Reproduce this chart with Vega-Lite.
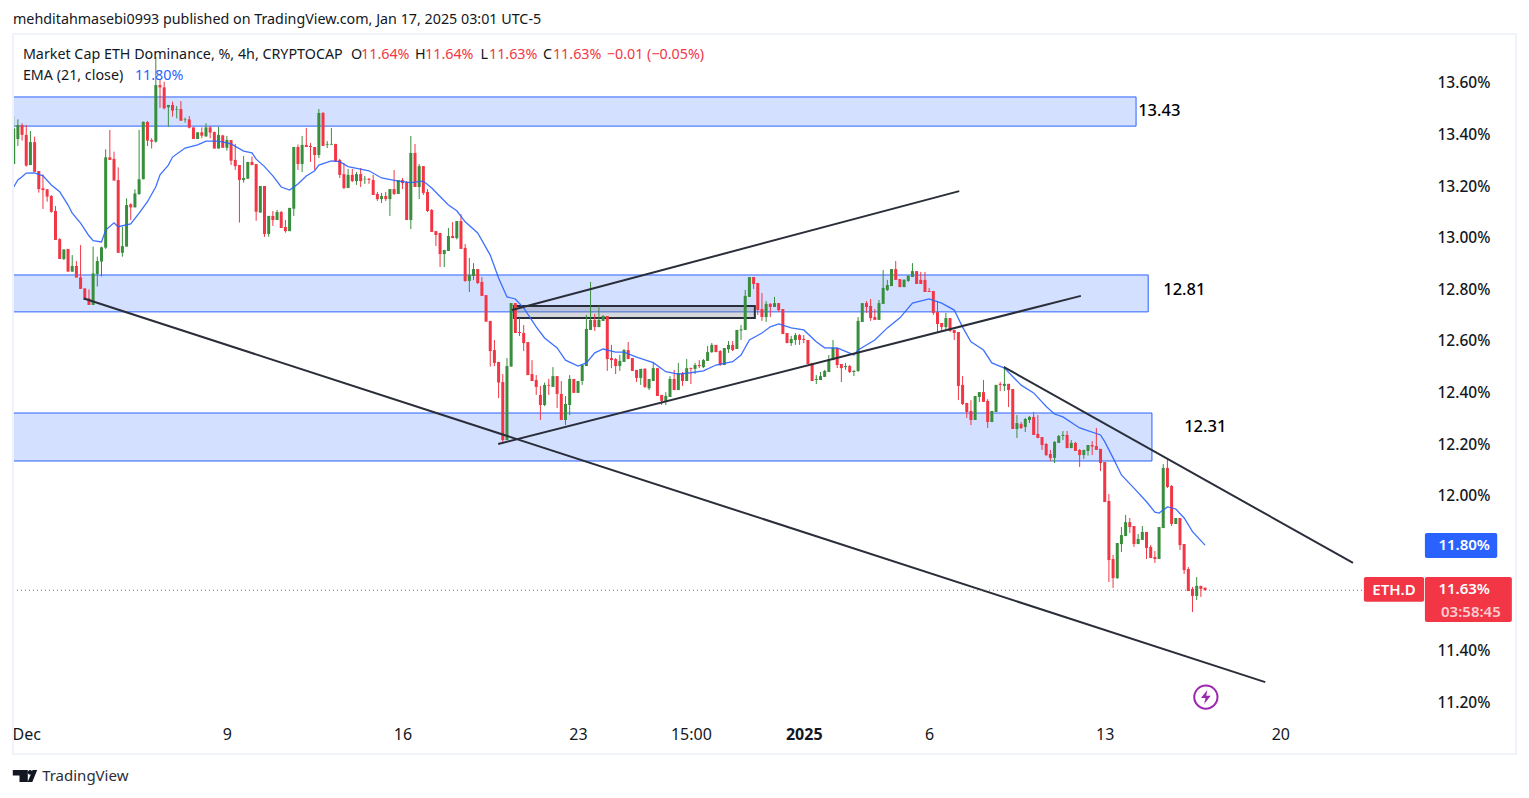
{"$schema":"https://vega.github.io/schema/vega-lite/v6.json","width":1529,"height":798,"padding":0,"autosize":"none","background":"#ffffff","view":{"stroke":null},
"config":{"font":"Noto Sans","text":{"font":"Noto Sans"}},
"datasets":{
"candles":[
{"bar":0,"o":13.282,"h":13.468,"l":13.282,"c":13.420},{"bar":1,"o":13.379,"h":13.455,"l":13.352,"c":13.433},{"bar":2,"o":13.433,"h":13.440,"l":13.373,"c":13.395},{"bar":3,"o":13.395,"h":13.433,"l":13.272,"c":13.276},{"bar":4,"o":13.278,"h":13.410,"l":13.278,"c":13.367},{"bar":5,"o":13.367,"h":13.388,"l":13.252,"c":13.252},{"bar":6,"o":13.255,"h":13.255,"l":13.171,"c":13.185},{"bar":7,"o":13.188,"h":13.242,"l":13.108,"c":13.181},{"bar":8,"o":13.184,"h":13.184,"l":13.136,"c":13.156},{"bar":9,"o":13.158,"h":13.162,"l":13.093,"c":13.097},
{"bar":10,"o":13.100,"h":13.119,"l":12.988,"c":12.988},{"bar":11,"o":12.991,"h":12.994,"l":12.914,"c":12.914},{"bar":12,"o":12.914,"h":12.951,"l":12.910,"c":12.951},{"bar":13,"o":12.953,"h":12.953,"l":12.865,"c":12.865},{"bar":14,"o":12.865,"h":12.929,"l":12.865,"c":12.887},{"bar":15,"o":12.887,"h":12.906,"l":12.842,"c":12.842},{"bar":16,"o":12.843,"h":12.968,"l":12.798,"c":12.798},{"bar":17,"o":12.800,"h":12.800,"l":12.755,"c":12.755},{"bar":18,"o":12.761,"h":12.796,"l":12.736,"c":12.736},{"bar":19,"o":12.736,"h":12.962,"l":12.736,"c":12.858},
{"bar":20,"o":12.856,"h":12.923,"l":12.807,"c":12.906},{"bar":21,"o":12.904,"h":12.962,"l":12.846,"c":12.959},{"bar":22,"o":12.958,"h":13.339,"l":12.953,"c":13.308},{"bar":23,"o":13.308,"h":13.414,"l":13.298,"c":13.298},{"bar":24,"o":13.302,"h":13.330,"l":13.218,"c":13.218},{"bar":25,"o":13.220,"h":13.269,"l":12.938,"c":12.938},{"bar":26,"o":12.938,"h":13.039,"l":12.923,"c":12.964},{"bar":27,"o":12.962,"h":13.149,"l":12.962,"c":13.123},{"bar":28,"o":13.126,"h":13.130,"l":13.065,"c":13.114},{"bar":29,"o":13.114,"h":13.184,"l":13.114,"c":13.168},
{"bar":30,"o":13.166,"h":13.414,"l":13.162,"c":13.223},{"bar":31,"o":13.223,"h":13.446,"l":13.223,"c":13.446},{"bar":32,"o":13.445,"h":13.449,"l":13.352,"c":13.373},{"bar":33,"o":13.375,"h":13.382,"l":13.342,"c":13.369},{"bar":34,"o":13.369,"h":13.697,"l":13.365,"c":13.588},{"bar":35,"o":13.588,"h":13.608,"l":13.500,"c":13.579},{"bar":36,"o":13.579,"h":13.601,"l":13.494,"c":13.498},{"bar":37,"o":13.502,"h":13.511,"l":13.427,"c":13.511},{"bar":38,"o":13.511,"h":13.524,"l":13.466,"c":13.489},{"bar":39,"o":13.493,"h":13.507,"l":13.459,"c":13.495},
{"bar":40,"o":13.495,"h":13.526,"l":13.449,"c":13.450},{"bar":41,"o":13.453,"h":13.462,"l":13.442,"c":13.455},{"bar":42,"o":13.455,"h":13.468,"l":13.420,"c":13.423},{"bar":43,"o":13.424,"h":13.424,"l":13.379,"c":13.379},{"bar":44,"o":13.379,"h":13.405,"l":13.379,"c":13.405},{"bar":45,"o":13.405,"h":13.424,"l":13.382,"c":13.392},{"bar":46,"o":13.389,"h":13.440,"l":13.388,"c":13.424},{"bar":47,"o":13.424,"h":13.429,"l":13.382,"c":13.404},{"bar":48,"o":13.406,"h":13.408,"l":13.342,"c":13.342},{"bar":49,"o":13.342,"h":13.427,"l":13.342,"c":13.395},
{"bar":50,"o":13.393,"h":13.395,"l":13.345,"c":13.345},{"bar":51,"o":13.345,"h":13.391,"l":13.334,"c":13.375},{"bar":52,"o":13.375,"h":13.375,"l":13.278,"c":13.295},{"bar":53,"o":13.298,"h":13.360,"l":13.259,"c":13.274},{"bar":54,"o":13.278,"h":13.278,"l":13.055,"c":13.220},{"bar":55,"o":13.220,"h":13.313,"l":13.210,"c":13.228},{"bar":56,"o":13.225,"h":13.291,"l":13.225,"c":13.290},{"bar":57,"o":13.290,"h":13.311,"l":13.278,"c":13.278},{"bar":58,"o":13.282,"h":13.282,"l":13.062,"c":13.097},{"bar":59,"o":13.094,"h":13.197,"l":13.094,"c":13.197},
{"bar":60,"o":13.197,"h":13.197,"l":13.000,"c":13.011},{"bar":61,"o":13.011,"h":13.081,"l":13.000,"c":13.081},{"bar":62,"o":13.081,"h":13.100,"l":13.042,"c":13.065},{"bar":63,"o":13.065,"h":13.104,"l":13.065,"c":13.096},{"bar":64,"o":13.096,"h":13.100,"l":13.034,"c":13.034},{"bar":65,"o":13.038,"h":13.065,"l":13.016,"c":13.022},{"bar":66,"o":13.022,"h":13.112,"l":13.022,"c":13.112},{"bar":67,"o":13.109,"h":13.348,"l":13.081,"c":13.348},{"bar":68,"o":13.348,"h":13.358,"l":13.259,"c":13.282},{"bar":69,"o":13.282,"h":13.391,"l":13.251,"c":13.356},
{"bar":70,"o":13.356,"h":13.422,"l":13.348,"c":13.348},{"bar":71,"o":13.352,"h":13.364,"l":13.290,"c":13.348},{"bar":72,"o":13.348,"h":13.348,"l":13.259,"c":13.317},{"bar":73,"o":13.317,"h":13.495,"l":13.305,"c":13.480},{"bar":74,"o":13.480,"h":13.484,"l":13.352,"c":13.352},{"bar":75,"o":13.357,"h":13.371,"l":13.344,"c":13.360},{"bar":76,"o":13.357,"h":13.422,"l":13.357,"c":13.360},{"bar":77,"o":13.360,"h":13.360,"l":13.291,"c":13.291},{"bar":78,"o":13.298,"h":13.302,"l":13.228,"c":13.240},{"bar":79,"o":13.243,"h":13.286,"l":13.185,"c":13.189},
{"bar":80,"o":13.189,"h":13.263,"l":13.189,"c":13.240},{"bar":81,"o":13.240,"h":13.263,"l":13.212,"c":13.216},{"bar":82,"o":13.216,"h":13.251,"l":13.201,"c":13.243},{"bar":83,"o":13.243,"h":13.267,"l":13.193,"c":13.216},{"bar":84,"o":13.223,"h":13.236,"l":13.205,"c":13.225},{"bar":85,"o":13.225,"h":13.228,"l":13.205,"c":13.221},{"bar":86,"o":13.220,"h":13.240,"l":13.162,"c":13.162},{"bar":87,"o":13.166,"h":13.174,"l":13.139,"c":13.146},{"bar":88,"o":13.146,"h":13.170,"l":13.131,"c":13.158},{"bar":89,"o":13.158,"h":13.174,"l":13.139,"c":13.146},
{"bar":90,"o":13.146,"h":13.185,"l":13.081,"c":13.185},{"bar":91,"o":13.185,"h":13.259,"l":13.162,"c":13.166},{"bar":92,"o":13.166,"h":13.220,"l":13.166,"c":13.220},{"bar":93,"o":13.220,"h":13.228,"l":13.185,"c":13.208},{"bar":94,"o":13.212,"h":13.216,"l":13.065,"c":13.065},{"bar":95,"o":13.065,"h":13.391,"l":13.030,"c":13.325},{"bar":96,"o":13.325,"h":13.360,"l":13.193,"c":13.193},{"bar":97,"o":13.193,"h":13.282,"l":13.146,"c":13.274},{"bar":98,"o":13.274,"h":13.274,"l":13.162,"c":13.170},{"bar":99,"o":13.174,"h":13.185,"l":13.096,"c":13.100},
{"bar":100,"o":13.104,"h":13.108,"l":13.019,"c":13.019},{"bar":101,"o":13.022,"h":13.022,"l":12.964,"c":13.007},{"bar":102,"o":13.015,"h":13.015,"l":12.883,"c":12.933},{"bar":103,"o":12.933,"h":12.949,"l":12.883,"c":12.949},{"bar":104,"o":12.945,"h":13.034,"l":12.945,"c":13.003},{"bar":105,"o":13.003,"h":13.057,"l":12.995,"c":12.995},{"bar":106,"o":12.995,"h":13.061,"l":12.990,"c":13.061},{"bar":107,"o":13.061,"h":13.088,"l":12.953,"c":12.953},{"bar":108,"o":12.957,"h":12.972,"l":12.825,"c":12.829},{"bar":109,"o":12.829,"h":12.918,"l":12.786,"c":12.852},
{"bar":110,"o":12.848,"h":12.898,"l":12.832,"c":12.875},{"bar":111,"o":12.875,"h":12.875,"l":12.817,"c":12.821},{"bar":112,"o":12.825,"h":12.844,"l":12.771,"c":12.771},{"bar":113,"o":12.774,"h":12.774,"l":12.671,"c":12.671},{"bar":114,"o":12.674,"h":12.674,"l":12.497,"c":12.557},{"bar":115,"o":12.561,"h":12.600,"l":12.499,"c":12.511},{"bar":116,"o":12.515,"h":12.515,"l":12.375,"c":12.435},{"bar":117,"o":12.437,"h":12.468,"l":12.197,"c":12.212},{"bar":118,"o":12.212,"h":12.530,"l":12.212,"c":12.499},{"bar":119,"o":12.497,"h":12.743,"l":12.497,"c":12.743},
{"bar":120,"o":12.743,"h":12.743,"l":12.627,"c":12.627},{"bar":121,"o":12.631,"h":12.685,"l":12.615,"c":12.627},{"bar":122,"o":12.627,"h":12.658,"l":12.557,"c":12.588},{"bar":123,"o":12.592,"h":12.592,"l":12.464,"c":12.464},{"bar":124,"o":12.468,"h":12.522,"l":12.441,"c":12.441},{"bar":125,"o":12.445,"h":12.464,"l":12.387,"c":12.418},{"bar":126,"o":12.387,"h":12.422,"l":12.290,"c":12.348},{"bar":127,"o":12.348,"h":12.435,"l":12.344,"c":12.426},{"bar":128,"o":12.426,"h":12.449,"l":12.387,"c":12.423},{"bar":129,"o":12.418,"h":12.495,"l":12.418,"c":12.460},
{"bar":130,"o":12.460,"h":12.460,"l":12.336,"c":12.391},{"bar":131,"o":12.391,"h":12.441,"l":12.290,"c":12.290},{"bar":132,"o":12.290,"h":12.383,"l":12.271,"c":12.352},{"bar":133,"o":12.348,"h":12.464,"l":12.309,"c":12.449},{"bar":134,"o":12.449,"h":12.449,"l":12.395,"c":12.395},{"bar":135,"o":12.395,"h":12.441,"l":12.395,"c":12.441},{"bar":136,"o":12.441,"h":12.503,"l":12.426,"c":12.503},{"bar":137,"o":12.499,"h":12.697,"l":12.499,"c":12.643},{"bar":138,"o":12.639,"h":12.825,"l":12.639,"c":12.678},{"bar":139,"o":12.678,"h":12.701,"l":12.635,"c":12.650},
{"bar":140,"o":12.650,"h":12.732,"l":12.650,"c":12.678},{"bar":141,"o":12.674,"h":12.697,"l":12.674,"c":12.693},{"bar":142,"o":12.693,"h":12.693,"l":12.480,"c":12.526},{"bar":143,"o":12.530,"h":12.581,"l":12.491,"c":12.522},{"bar":144,"o":12.526,"h":12.530,"l":12.468,"c":12.499},{"bar":145,"o":12.499,"h":12.542,"l":12.480,"c":12.519},{"bar":146,"o":12.515,"h":12.565,"l":12.515,"c":12.561},{"bar":147,"o":12.561,"h":12.592,"l":12.526,"c":12.526},{"bar":148,"o":12.530,"h":12.530,"l":12.480,"c":12.480},{"bar":149,"o":12.484,"h":12.484,"l":12.437,"c":12.453},
{"bar":150,"o":12.453,"h":12.488,"l":12.426,"c":12.488},{"bar":151,"o":12.489,"h":12.489,"l":12.414,"c":12.418},{"bar":152,"o":12.413,"h":12.449,"l":12.406,"c":12.449},{"bar":153,"o":12.441,"h":12.515,"l":12.441,"c":12.491},{"bar":154,"o":12.491,"h":12.491,"l":12.383,"c":12.383},{"bar":155,"o":12.387,"h":12.387,"l":12.348,"c":12.364},{"bar":156,"o":12.360,"h":12.398,"l":12.348,"c":12.383},{"bar":157,"o":12.379,"h":12.460,"l":12.379,"c":12.449},{"bar":158,"o":12.449,"h":12.484,"l":12.406,"c":12.406},{"bar":159,"o":12.406,"h":12.511,"l":12.406,"c":12.472},
{"bar":160,"o":12.472,"h":12.476,"l":12.422,"c":12.441},{"bar":161,"o":12.441,"h":12.526,"l":12.441,"c":12.491},{"bar":162,"o":12.492,"h":12.492,"l":12.429,"c":12.488},{"bar":163,"o":12.488,"h":12.511,"l":12.468,"c":12.503},{"bar":164,"o":12.503,"h":12.522,"l":12.491,"c":12.499},{"bar":165,"o":12.495,"h":12.526,"l":12.491,"c":12.522},{"bar":166,"o":12.519,"h":12.577,"l":12.519,"c":12.553},{"bar":167,"o":12.553,"h":12.588,"l":12.550,"c":12.581},{"bar":168,"o":12.581,"h":12.581,"l":12.553,"c":12.553},{"bar":169,"o":12.557,"h":12.561,"l":12.499,"c":12.503},
{"bar":170,"o":12.503,"h":12.569,"l":12.503,"c":12.569},{"bar":171,"o":12.564,"h":12.596,"l":12.550,"c":12.581},{"bar":172,"o":12.581,"h":12.596,"l":12.557,"c":12.561},{"bar":173,"o":12.565,"h":12.639,"l":12.565,"c":12.639},{"bar":174,"o":12.637,"h":12.658,"l":12.600,"c":12.641},{"bar":175,"o":12.639,"h":12.794,"l":12.639,"c":12.771},{"bar":176,"o":12.767,"h":12.844,"l":12.767,"c":12.844},{"bar":177,"o":12.844,"h":12.844,"l":12.798,"c":12.817},{"bar":178,"o":12.821,"h":12.821,"l":12.697,"c":12.716},{"bar":179,"o":12.720,"h":12.782,"l":12.674,"c":12.689},
{"bar":180,"o":12.689,"h":12.751,"l":12.670,"c":12.740},{"bar":181,"o":12.740,"h":12.743,"l":12.689,"c":12.728},{"bar":182,"o":12.728,"h":12.767,"l":12.728,"c":12.743},{"bar":183,"o":12.743,"h":12.743,"l":12.709,"c":12.716},{"bar":184,"o":12.720,"h":12.720,"l":12.623,"c":12.623},{"bar":185,"o":12.627,"h":12.627,"l":12.588,"c":12.588},{"bar":186,"o":12.588,"h":12.616,"l":12.577,"c":12.604},{"bar":187,"o":12.600,"h":12.627,"l":12.581,"c":12.619},{"bar":188,"o":12.619,"h":12.623,"l":12.581,"c":12.600},{"bar":189,"o":12.604,"h":12.619,"l":12.588,"c":12.600},
{"bar":190,"o":12.600,"h":12.600,"l":12.507,"c":12.507},{"bar":191,"o":12.511,"h":12.511,"l":12.441,"c":12.441},{"bar":192,"o":12.445,"h":12.464,"l":12.429,"c":12.449},{"bar":193,"o":12.445,"h":12.476,"l":12.445,"c":12.460},{"bar":194,"o":12.457,"h":12.484,"l":12.457,"c":12.480},{"bar":195,"o":12.476,"h":12.542,"l":12.476,"c":12.526},{"bar":196,"o":12.522,"h":12.600,"l":12.522,"c":12.569},{"bar":197,"o":12.569,"h":12.569,"l":12.491,"c":12.503},{"bar":198,"o":12.507,"h":12.507,"l":12.437,"c":12.491},{"bar":199,"o":12.495,"h":12.511,"l":12.484,"c":12.499},
{"bar":200,"o":12.499,"h":12.503,"l":12.472,"c":12.476},{"bar":201,"o":12.476,"h":12.484,"l":12.460,"c":12.480},{"bar":202,"o":12.480,"h":12.689,"l":12.476,"c":12.674},{"bar":203,"o":12.670,"h":12.743,"l":12.670,"c":12.743},{"bar":204,"o":12.743,"h":12.751,"l":12.705,"c":12.728},{"bar":205,"o":12.732,"h":12.759,"l":12.674,"c":12.685},{"bar":206,"o":12.689,"h":12.720,"l":12.678,"c":12.678},{"bar":207,"o":12.678,"h":12.755,"l":12.678,"c":12.743},{"bar":208,"o":12.740,"h":12.871,"l":12.740,"c":12.802},{"bar":209,"o":12.794,"h":12.833,"l":12.790,"c":12.813},
{"bar":210,"o":12.809,"h":12.875,"l":12.809,"c":12.875},{"bar":211,"o":12.875,"h":12.906,"l":12.833,"c":12.833},{"bar":212,"o":12.836,"h":12.836,"l":12.805,"c":12.805},{"bar":213,"o":12.805,"h":12.836,"l":12.805,"c":12.833},{"bar":214,"o":12.829,"h":12.852,"l":12.825,"c":12.848},{"bar":215,"o":12.844,"h":12.898,"l":12.844,"c":12.867},{"bar":216,"o":12.867,"h":12.867,"l":12.817,"c":12.817},{"bar":217,"o":12.833,"h":12.864,"l":12.817,"c":12.817},{"bar":218,"o":12.833,"h":12.864,"l":12.786,"c":12.786},{"bar":219,"o":12.790,"h":12.802,"l":12.786,"c":12.786},
{"bar":220,"o":12.790,"h":12.790,"l":12.697,"c":12.705},{"bar":221,"o":12.708,"h":12.751,"l":12.627,"c":12.662},{"bar":222,"o":12.666,"h":12.666,"l":12.631,"c":12.650},{"bar":223,"o":12.650,"h":12.705,"l":12.635,"c":12.685},{"bar":224,"o":12.685,"h":12.685,"l":12.631,"c":12.635},{"bar":225,"o":12.639,"h":12.639,"l":12.600,"c":12.627},{"bar":226,"o":12.631,"h":12.631,"l":12.367,"c":12.422},{"bar":227,"o":12.426,"h":12.460,"l":12.348,"c":12.352},{"bar":228,"o":12.356,"h":12.356,"l":12.298,"c":12.321},{"bar":229,"o":12.325,"h":12.367,"l":12.270,"c":12.290},
{"bar":230,"o":12.290,"h":12.383,"l":12.290,"c":12.383},{"bar":231,"o":12.379,"h":12.398,"l":12.360,"c":12.398},{"bar":232,"o":12.398,"h":12.445,"l":12.360,"c":12.360},{"bar":233,"o":12.364,"h":12.371,"l":12.259,"c":12.282},{"bar":234,"o":12.282,"h":12.325,"l":12.282,"c":12.325},{"bar":235,"o":12.321,"h":12.426,"l":12.321,"c":12.426},{"bar":236,"o":12.430,"h":12.437,"l":12.402,"c":12.426},{"bar":237,"o":12.422,"h":12.499,"l":12.402,"c":12.430},{"bar":238,"o":12.430,"h":12.430,"l":12.340,"c":12.406},{"bar":239,"o":12.410,"h":12.410,"l":12.255,"c":12.255},
{"bar":240,"o":12.255,"h":12.309,"l":12.220,"c":12.278},{"bar":241,"o":12.274,"h":12.282,"l":12.255,"c":12.259},{"bar":242,"o":12.263,"h":12.298,"l":12.243,"c":12.294},{"bar":243,"o":12.290,"h":12.305,"l":12.278,"c":12.302},{"bar":244,"o":12.302,"h":12.321,"l":12.232,"c":12.232},{"bar":245,"o":12.236,"h":12.309,"l":12.220,"c":12.220},{"bar":246,"o":12.224,"h":12.224,"l":12.174,"c":12.193},{"bar":247,"o":12.197,"h":12.201,"l":12.150,"c":12.154},{"bar":248,"o":12.158,"h":12.174,"l":12.131,"c":12.143},{"bar":249,"o":12.143,"h":12.208,"l":12.123,"c":12.205},
{"bar":250,"o":12.201,"h":12.232,"l":12.201,"c":12.228},{"bar":251,"o":12.228,"h":12.247,"l":12.212,"c":12.232},{"bar":252,"o":12.232,"h":12.247,"l":12.181,"c":12.181},{"bar":253,"o":12.181,"h":12.212,"l":12.181,"c":12.201},{"bar":254,"o":12.201,"h":12.205,"l":12.170,"c":12.170},{"bar":255,"o":12.174,"h":12.177,"l":12.108,"c":12.154},{"bar":256,"o":12.154,"h":12.174,"l":12.139,"c":12.174},{"bar":257,"o":12.170,"h":12.193,"l":12.152,"c":12.193},{"bar":258,"o":12.193,"h":12.208,"l":12.154,"c":12.187},{"bar":259,"o":12.189,"h":12.259,"l":12.174,"c":12.174},
{"bar":260,"o":12.178,"h":12.178,"l":12.092,"c":12.123},{"bar":261,"o":12.127,"h":12.127,"l":11.972,"c":11.972},{"bar":262,"o":11.976,"h":12.003,"l":11.662,"c":11.747},{"bar":263,"o":11.751,"h":11.767,"l":11.639,"c":11.677},{"bar":264,"o":11.677,"h":11.813,"l":11.674,"c":11.813},{"bar":265,"o":11.809,"h":11.875,"l":11.778,"c":11.844},{"bar":266,"o":11.840,"h":11.922,"l":11.840,"c":11.894},{"bar":267,"o":11.894,"h":11.910,"l":11.852,"c":11.875},{"bar":268,"o":11.879,"h":11.879,"l":11.798,"c":11.809},{"bar":269,"o":11.809,"h":11.848,"l":11.809,"c":11.829},
{"bar":270,"o":11.825,"h":11.879,"l":11.825,"c":11.856},{"bar":271,"o":11.856,"h":11.856,"l":11.751,"c":11.794},{"bar":272,"o":11.798,"h":11.805,"l":11.755,"c":11.755},{"bar":273,"o":11.759,"h":11.782,"l":11.736,"c":11.751},{"bar":274,"o":11.751,"h":11.875,"l":11.751,"c":11.875},{"bar":275,"o":11.871,"h":12.119,"l":11.871,"c":12.104},{"bar":276,"o":12.104,"h":12.143,"l":12.026,"c":12.030},{"bar":277,"o":12.034,"h":12.038,"l":11.879,"c":11.887},{"bar":278,"o":11.887,"h":11.910,"l":11.887,"c":11.910},{"bar":279,"o":11.910,"h":11.910,"l":11.786,"c":11.805},
{"bar":280,"o":11.809,"h":11.809,"l":11.693,"c":11.708},{"bar":281,"o":11.712,"h":11.720,"l":11.627,"c":11.627},{"bar":282,"o":11.635,"h":11.643,"l":11.546,"c":11.608},{"bar":283,"o":11.608,"h":11.681,"l":11.592,"c":11.647},{"bar":284,"o":11.647,"h":11.647,"l":11.604,"c":11.635},{"bar":285,"o":11.640,"h":11.640,"l":11.630,"c":11.630}],
"ema":[
{"bar":0,"price":13.193},{"bar":1,"price":13.220},{"bar":2,"price":13.233},{"bar":3,"price":13.247},{"bar":5,"price":13.248},{"bar":7,"price":13.236},{"bar":9,"price":13.201},{"bar":11,"price":13.175},{"bar":13,"price":13.123},{"bar":14,"price":13.092},{"bar":16,"price":13.053},{"bar":18,"price":13.004},{"bar":19,"price":12.985},{"bar":21,"price":12.980},{"bar":22,"price":13.026},{"bar":24,"price":13.054},{"bar":25,"price":13.039},{"bar":28,"price":13.050},{"bar":30,"price":13.092},{"bar":32,"price":13.136},{"bar":34,"price":13.194},{"bar":35,"price":13.240},{"bar":37,"price":13.278},{"bar":38,"price":13.309},{"bar":41,"price":13.344},{"bar":44,"price":13.356},{"bar":46,"price":13.371},{"bar":49,"price":13.371},{"bar":52,"price":13.360},{"bar":55,"price":13.332},{"bar":57,"price":13.325},{"bar":58,"price":13.301},{"bar":60,"price":13.272},{"bar":62,"price":13.236},{"bar":64,"price":13.193},{"bar":66,"price":13.181},{"bar":68,"price":13.205},{"bar":70,"price":13.236},{"bar":72,"price":13.256},{"bar":73,"price":13.278},{"bar":76,"price":13.294},{"bar":78,"price":13.291},{"bar":80,"price":13.272},{"bar":85,"price":13.256},{"bar":88,"price":13.228},{"bar":92,"price":13.216},{"bar":95,"price":13.210},{"bar":98,"price":13.216},{"bar":100,"price":13.189},{"bar":104,"price":13.123},{"bar":106,"price":13.101},{"bar":108,"price":13.058},{"bar":111,"price":13.015},{"bar":114,"price":12.929},{"bar":116,"price":12.840},{"bar":118,"price":12.767},{"bar":120,"price":12.759},{"bar":122,"price":12.724},{"bar":125,"price":12.651},{"bar":127,"price":12.608},{"bar":130,"price":12.569},{"bar":132,"price":12.522},{"bar":135,"price":12.499},{"bar":137,"price":12.511},{"bar":139,"price":12.550},{"bar":141,"price":12.565},{"bar":144,"price":12.553},{"bar":146,"price":12.553},{"bar":149,"price":12.534},{"bar":153,"price":12.512},{"bar":156,"price":12.477},{"bar":159,"price":12.468},{"bar":162,"price":12.473},{"bar":165,"price":12.480},{"bar":168,"price":12.503},{"bar":172,"price":12.516},{"bar":174,"price":12.542},{"bar":176,"price":12.600},{"bar":179,"price":12.627},{"bar":181,"price":12.651},{"bar":183,"price":12.662},{"bar":186,"price":12.647},{"bar":189,"price":12.639},{"bar":192,"price":12.593},{"bar":194,"price":12.570},{"bar":197,"price":12.569},{"bar":201,"price":12.542},{"bar":202,"price":12.561},{"bar":206,"price":12.600},{"bar":209,"price":12.647},{"bar":212,"price":12.686},{"bar":215,"price":12.743},{"bar":219,"price":12.759},{"bar":222,"price":12.743},{"bar":225,"price":12.716},{"bar":227,"price":12.650},{"bar":229,"price":12.593},{"bar":232,"price":12.561},{"bar":234,"price":12.511},{"bar":237,"price":12.491},{"bar":241,"price":12.425},{"bar":244,"price":12.395},{"bar":247,"price":12.342},{"bar":249,"price":12.313},{"bar":251,"price":12.302},{"bar":255,"price":12.259},{"bar":260,"price":12.232},{"bar":261,"price":12.206},{"bar":263,"price":12.143},{"bar":265,"price":12.077},{"bar":268,"price":12.026},{"bar":271,"price":11.973},{"bar":273,"price":11.933},{"bar":274,"price":11.929},{"bar":276,"price":11.953},{"bar":278,"price":11.945},{"bar":280,"price":11.910},{"bar":282,"price":11.857},{"bar":285,"price":11.805}],
"zones":[{"x0":-0.17,"x1":268.5,"top":13.542,"bottom":13.429},{"x0":-0.17,"x1":271.4,"top":12.852,"bottom":12.709},{"x0":-0.17,"x1":272.3,"top":12.317,"bottom":12.131}],
"trend":[{"id":"a","bar":16.8,"price":12.761},{"id":"a","bar":299.4,"price":11.274},{"id":"b","bar":115.9,"price":12.197},{"id":"b","bar":255.3,"price":12.771},{"id":"c","bar":119.2,"price":12.716},{"id":"c","bar":226.2,"price":13.177},{"id":"d","bar":236.9,"price":12.495},{"id":"d","bar":320.4,"price":11.736}]
},
"layer":[
{"data":{"name":"zones"},"mark":{"type":"rect","fill":"#2962ff","fillOpacity":0.2,"stroke":"#2962ff","strokeWidth":1},
 "encoding":{"x":{"field":"x0","type":"quantitative","title":null,"scale":{"domain":[-3.278,362.5],"nice":false,"zero":false,"padding":0},
   "axis":{"title":null,"orient":"bottom","offset":-72,"grid":false,"domain":false,"ticks":false,"labelPadding":0,"labelBaseline":"top","labelFontSize":16,"labelColor":"#131722","labelFlush":false,"labelOverlap":false,"values":[3,51,93,135,162,189,219,261,303],"labelExpr":"{'3':'Dec','51':'9','93':'16','135':'23','162':'15:00','189':'2025','219':'6','261':'13','303':'20'}[datum.value]","labelFontWeight":{"condition":{"test":"datum.value===189","value":"bold"},"value":"normal"}}},
  "x2":{"field":"x1"},
  "y":{"field":"top","type":"quantitative","title":null,"scale":{"domain":[10.8248,13.9178],"nice":false,"zero":false,"padding":0},
   "axis":{"title":null,"orient":"right","offset":-92,"grid":false,"domain":false,"ticks":false,"labelPadding":0,"labelOffset":1,"labelFontSize":15.5,"labelFontWeight":500,"labelColor":"#131722","labelOverlap":false,"values":[11.2,11.4,12,12.2,12.4,12.6,12.8,13,13.2,13.4,13.6],"labelExpr":"format(datum.value,'.2f')+'%'"}},
  "y2":{"field":"bottom"}}},
{"data":{"values":[{"x0":119.7,"x1":177.3,"top":12.732,"bottom":12.685}]},"mark":{"type":"rect","fill":"#787b86","fillOpacity":0.3,"stroke":"#2a2e39","strokeWidth":2},
 "encoding":{"x":{"field":"x0","type":"quantitative","title":null},"x2":{"field":"x1"},"y":{"field":"top","type":"quantitative","title":null},"y2":{"field":"bottom"}}},
{"data":{"name":"candles"},"mark":{"type":"rule","strokeWidth":1},
 "encoding":{"x":{"field":"bar","type":"quantitative","title":null},"y":{"field":"h","type":"quantitative","title":null},"y2":{"field":"l"},
  "color":{"condition":{"test":"datum.c>=datum.o","value":"#388e3c"},"value":"#f23645"}}},
{"data":{"name":"candles"},"mark":{"type":"bar","size":3},
 "encoding":{"x":{"field":"bar","type":"quantitative","title":null},"y":{"field":"o","type":"quantitative","title":null},"y2":{"field":"c"},
  "color":{"condition":{"test":"datum.c>=datum.o","value":"#388e3c"},"value":"#f23645"}}},
{"data":{"name":"ema"},"mark":{"type":"line","color":"#2962ff","strokeWidth":1.3,"opacity":0.9},
 "encoding":{"x":{"field":"bar","type":"quantitative","title":null},"y":{"field":"price","type":"quantitative","title":null}}},
{"data":{"name":"trend"},"mark":{"type":"line","color":"#2a2e39","strokeWidth":2},
 "encoding":{"x":{"field":"bar","type":"quantitative","title":null},"y":{"field":"price","type":"quantitative","title":null},"detail":{"field":"id"}}},
{"data":{"values":[{"x0":-0.17,"x1":323,"price":11.63}]},"mark":{"type":"rule","color":"#f23645","strokeWidth":1,"strokeDash":[1,3]},
 "encoding":{"x":{"field":"x0","type":"quantitative","title":null},"x2":{"field":"x1"},"y":{"field":"price","type":"quantitative","title":null}}},
{"data":{"values":[{"x0":-0.17,"x1":359.4,"top":13.786,"bottom":10.995}]},"mark":{"type":"rect","fillOpacity":0,"stroke":"#f0f3fa","strokeWidth":2},
 "encoding":{"x":{"field":"x0","type":"quantitative","title":null},"x2":{"field":"x1"},"y":{"field":"top","type":"quantitative","title":null},"y2":{"field":"bottom"}}},
{"data":{"values":[{"x0":337.6,"x1":354.9,"top":11.852,"bottom":11.755}]},"mark":{"type":"rect","fill":"#2962ff","cornerRadius":2},
 "encoding":{"x":{"field":"x0","type":"quantitative","title":null},"x2":{"field":"x1"},"y":{"field":"top","type":"quantitative","title":null},"y2":{"field":"bottom"}}},
{"data":{"values":[{"x0":323,"x1":337.4,"top":11.681,"bottom":11.585},{"x0":337.6,"x1":358.4,"top":11.681,"bottom":11.507}]},"mark":{"type":"rect","fill":"#f23645","cornerRadius":2},
 "encoding":{"x":{"field":"x0","type":"quantitative","title":null},"x2":{"field":"x1"},"y":{"field":"top","type":"quantitative","title":null},"y2":{"field":"bottom"}}},
{"data":{"values":[{"label":"11.80%","bar":347,"price":11.805},{"label":"ETH.D","bar":330.2,"price":11.63},{"label":"11.63%","bar":347,"price":11.636}]},"mark":{"type":"text","color":"#ffffff","fontSize":15,"fontWeight":600,"align":"center","baseline":"middle"},
 "encoding":{"x":{"field":"bar","type":"quantitative","title":null},"y":{"field":"price","type":"quantitative","title":null},"text":{"field":"label"}}},
{"data":{"values":[{"label":"03:58:45","bar":348.6,"price":11.547}]},"mark":{"type":"text","color":"#fccdd1","fontSize":15,"fontWeight":600,"align":"center","baseline":"middle"},
 "encoding":{"x":{"field":"bar","type":"quantitative","title":null},"y":{"field":"price","type":"quantitative","title":null},"text":{"field":"label"}}},
{"data":{"values":[{"label":"13.43","bar":269,"price":13.487},{"label":"12.81","bar":275,"price":12.793},{"label":"12.31","bar":280,"price":12.263}]},"mark":{"type":"text","color":"#000000","fontSize":16.5,"fontWeight":500,"align":"left","baseline":"middle"},
 "encoding":{"x":{"field":"bar","type":"quantitative","title":null},"y":{"field":"price","type":"quantitative","title":null},"text":{"field":"label"}}},
{"data":{"values":[{"label":"mehditahmasebi0993 published on TradingView.com, Jan 17, 2025 03:01 UTC-5","bar":-0.17,"price":13.84},{"label":"Market Cap ETH Dominance, %, 4h, CRYPTOCAP","bar":2.2,"price":13.705},{"label":"O","bar":80.7,"price":13.705},{"label":"H","bar":96,"price":13.705},{"label":"L","bar":111.7,"price":13.705},{"label":"C","bar":126.6,"price":13.705},{"label":"EMA (21, close)","bar":2.2,"price":13.623}]},"mark":{"type":"text","color":"#131722","fontSize":14.3,"align":"left","baseline":"middle"},
 "encoding":{"x":{"field":"bar","type":"quantitative","title":null},"y":{"field":"price","type":"quantitative","title":null},"text":{"field":"label"}}},
{"data":{"values":[{"label":"11.64%","bar":83.1,"price":13.705},{"label":"11.64%","bar":98.4,"price":13.705},{"label":"11.63%","bar":113.7,"price":13.705},{"label":"11.63%","bar":129,"price":13.705},{"label":"−0.01 (−0.05%)","bar":141.9,"price":13.705}]},"mark":{"type":"text","color":"#f23645","fontSize":14.3,"align":"left","baseline":"middle"},
 "encoding":{"x":{"field":"bar","type":"quantitative","title":null},"y":{"field":"price","type":"quantitative","title":null},"text":{"field":"label"}}},
{"data":{"values":[{"label":"11.80%","bar":29,"price":13.623}]},"mark":{"type":"text","color":"#2962ff","fontSize":14.3,"align":"left","baseline":"middle"},
 "encoding":{"x":{"field":"bar","type":"quantitative","title":null},"y":{"field":"price","type":"quantitative","title":null},"text":{"field":"label"}}},
{"data":{"values":[{"label":"TradingView","bar":6.8,"price":10.91}]},"mark":{"type":"text","color":"#2a2e39","fontSize":15,"align":"left","baseline":"middle"},
 "encoding":{"x":{"field":"bar","type":"quantitative","title":null},"y":{"field":"price","type":"quantitative","title":null},"text":{"field":"label"}}},
{"data":{"values":[{"bar":2.7,"price":10.91}]},"mark":{"type":"point","filled":true,"color":"#131722","opacity":1,"size":596,"shape":"M-1,-0.5H0.23V0.5H-0.45V-0.05H-1ZM0.42,-0.5A0.19,0.19 0 1 1 0.42,-0.12A0.19,0.19 0 1 1 0.42,-0.5ZM1,-0.5L0.6,0.5H0.22L0.62,-0.5Z"},
 "encoding":{"x":{"field":"bar","type":"quantitative","title":null},"y":{"field":"price","type":"quantitative","title":null}}},
{"data":{"values":[{"bar":285.2,"price":11.216}]},"mark":{"type":"point","shape":"circle","filled":false,"color":"#9c27b0","opacity":1,"strokeWidth":2,"size":540},
 "encoding":{"x":{"field":"bar","type":"quantitative","title":null},"y":{"field":"price","type":"quantitative","title":null}}},
{"data":{"values":[{"bar":285.2,"price":11.216}]},"mark":{"type":"point","filled":true,"color":"#9c27b0","opacity":1,"size":196,"shape":"M0.2,-1L-0.7,0.15H-0.05L-0.25,1L0.7,-0.2H0.05Z"},
 "encoding":{"x":{"field":"bar","type":"quantitative","title":null},"y":{"field":"price","type":"quantitative","title":null}}}
]}
